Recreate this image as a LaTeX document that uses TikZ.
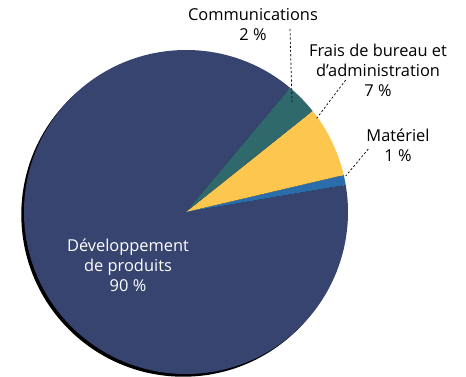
\documentclass[tikz,border=0pt]{standalone}
\usepackage{fontspec}
\setmainfont{Open Sans}
\definecolor{navy}{HTML}{36446F}
\definecolor{teal}{HTML}{30696B}
\definecolor{gold}{HTML}{FDC64E}
\definecolor{steel}{HTML}{2B6CAA}
\begin{document}
\begin{tikzpicture}[x=1pt,y=1pt,
  lbl/.style={align=center,font=\fontsize{16.4}{20}\selectfont,inner sep=0pt},
  leader/.style={draw=black,line width=0.7pt,dash pattern=on 2.2pt off 2pt}]
\useasboundingbox (0,0) rectangle (466,376);
\coordinate (c) at (186,164);
% shadow
\fill[black] (183.3,161.3) circle (162);
% slices
\fill[navy] (c) -- ++(50:162) arc (50:369.6:162) -- cycle;
\fill[steel] (c) -- ++(9.6:162) arc (9.6:13.2:162) -- cycle;
\fill[gold] (c) -- ++(13.2:162) arc (13.2:38.6:162) -- cycle;
\fill[teal] (c) -- ++(38.6:162) arc (38.6:50:162) -- cycle;
% labels
\node[lbl] (comm) at (253,351) {Communications\\2 \%};
\node[lbl] (frais) at (378,306) {Frais de bureau et\\d’administration\\7 \%};
\node[lbl] (mat) at (398,231) {Matériel\\1 \%};
\node[lbl,text=white] (dev) at (128,110.5) {Développement\\de produits\\90 \%};
% leaders
\coordinate (commA) at (290,347);
\coordinate (commB) at (292,274);
\coordinate (fraisA) at (345.7,296);
\coordinate (fraisB) at (316.7,257.7);
\coordinate (matA) at (368.3,227);
\coordinate (matB) at (345.7,200);
\draw[leader] (commA) -- (commB);
\draw[leader] (fraisA) -- (fraisB);
\draw[leader] (matA) -- (matB);
\end{tikzpicture}
\end{document}
